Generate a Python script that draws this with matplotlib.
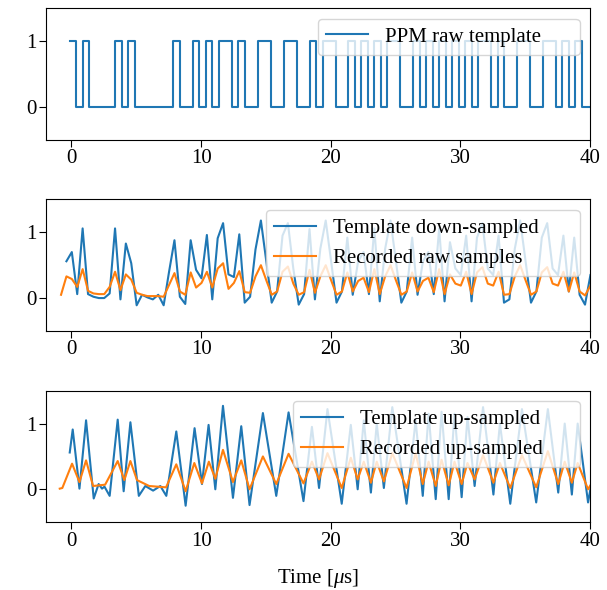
import matplotlib
matplotlib.use("Agg")
import matplotlib.pyplot as plt
import numpy as np

plt.rcParams["font.family"] = ["Liberation Serif", "DejaVu Serif"]
plt.rcParams["mathtext.fontset"] = "custom"
plt.rcParams["mathtext.rm"] = "Liberation Serif"
plt.rcParams["mathtext.it"] = "Liberation Serif:italic"
plt.rcParams["font.size"] = 15
plt.rcParams["xtick.major.size"] = 5
plt.rcParams["ytick.major.size"] = 5
plt.rcParams["xtick.major.pad"] = 1.8
plt.rcParams["ytick.major.pad"] = 1.8

# PPM template: preamble chips + message bits (0.5 us chips)
chip_width = 0.5
template_start = -0.13
preamble_chips = [1, 0, 1, 0, 0, 0, 0, 1, 0, 1, 0, 0, 0, 0, 0, 0]
message_bits = [1, 0, 0, 0, 1, 1, 0, 1,
                0, 1, 0, 0, 1, 0, 0, 0,
                0, 1, 0, 0, 0, 0, 0, 0,
                1, 1, 0, 1, 0, 1, 1, 1,
                0]

# down-sampled template and recorded raw samples (2.4 MHz)
sample_period = 1 / 2.4
down_start = -0.385
template_down = [0.56, 0.70, 0.06, 1.06, 0.06, 0.02, 0.00, 0.00, 0.07, 1.06,
                 -0.02, 0.83, 0.53, -0.11, 0.05, 0.01, -0.02, 0.05, -0.11, 0.40,
                 0.88, 0.02, -0.09, 0.88, 0.43, 0.30, 0.96, -0.02, 0.91, 1.14,
                 0.36, 0.32, 0.97, -0.07, 0.02, 0.74, 1.18, 0.56, -0.07, 0.10,
                 0.95, 1.14, 0.45, -0.10, 0.06, 1.05, -0.02, 0.75, 1.18, 0.56,
                 -0.07, 0.10, 0.92, 0.05, 0.56, 0.70, 0.06, 1.06, -0.05, 0.75,
                 1.18, 0.56, -0.07, 0.10, 0.92, 0.05, 0.56, 0.70, 0.06, 1.06,
                 -0.05, 0.85, 0.45, 0.35, 0.95, -0.05, 0.92, 1.14, 0.45, 0.35,
                 0.95, -0.07, -0.02, 0.75, 1.18, 0.56, -0.07, 0.10, 0.92, 1.14,
                 0.45, 0.35, 0.95, 0.10, 0.92, 0.05, -0.10, 0.35]
recorded_start = -0.80
recorded_raw = [0.05, 0.33, 0.29, 0.17, 0.44, 0.11, 0.07, 0.06, 0.06, 0.17,
                0.40, 0.12, 0.36, 0.28, 0.08, 0.05, 0.03, 0.03, 0.03, 0.02,
                0.20, 0.38, 0.10, 0.05, 0.39, 0.16, 0.23, 0.40, 0.16, 0.45,
                0.53, 0.14, 0.23, 0.41, 0.09, 0.08, 0.33, 0.50, 0.27, 0.05,
                0.10, 0.40, 0.48, 0.22, 0.05, 0.09, 0.43, 0.08, 0.33, 0.50,
                0.27, 0.05, 0.10, 0.39, 0.10, 0.26, 0.31, 0.09, 0.44, 0.06,
                0.33, 0.50, 0.27, 0.05, 0.10, 0.39, 0.10, 0.26, 0.31, 0.09,
                0.44, 0.06, 0.36, 0.22, 0.19, 0.40, 0.06, 0.39, 0.47, 0.22,
                0.19, 0.40, 0.05, 0.06, 0.33, 0.50, 0.27, 0.05, 0.10, 0.39,
                0.47, 0.22, 0.19, 0.40, 0.10, 0.39, 0.10, 0.04, 0.19]

# up-sampled curves, read as (time, value) turning points
up_template_t = [-0.13, 0.10, 0.62, 1.13, 1.72, 2.10, 2.36, 2.55, 2.95, 3.57,
                 4.03, 4.55, 5.20, 5.70, 6.30, 6.86, 7.32, 8.09, 8.81, 9.50,
                 10.07, 10.58, 11.10, 11.69, 12.46, 13.10, 13.74, 14.77, 15.80,
                 16.75, 17.90, 18.55, 19.10, 19.75, 20.85, 21.55, 22.08, 22.55,
                 23.10, 23.55, 24.10, 24.75, 25.85, 26.55, 27.10, 27.55, 28.10,
                 28.55, 29.10, 29.55, 30.10, 30.55, 31.10, 31.75, 32.55, 33.05,
                 33.85, 34.75, 35.85, 36.75, 37.55, 38.05, 38.60, 39.05, 39.85,
                 40.30]
up_template_v = [0.56, 0.91, 0.01, 1.05, -0.14, 0.08, 0.01, 0.04, -0.10, 1.06,
                 -0.03, 1.02, -0.10, 0.05, -0.02, 0.05, -0.10, 0.88, -0.25, 0.93,
                 0.08, 0.98, 0.00, 1.27, -0.13, 0.96, -0.24, 1.16, -0.10,
                 1.17, -0.18, 0.95, 0.02, 1.22, -0.22, 0.98, 0.00, 1.05,
                 -0.05, 1.00, 0.02, 1.25, -0.22, 1.05, -0.10, 1.15, -0.15,
                 1.18, -0.15, 1.15, -0.12, 1.10, 0.05, 1.25, -0.08, 1.00,
                 -0.22, 1.22, -0.20, 1.22, -0.05, 1.00, -0.08, 1.00, -0.20,
                 0.30]
up_recorded_t = [-0.90, -0.70, 0.05, 0.62, 1.13, 1.67, 2.60, 3.57, 4.08, 4.55,
                 5.06, 6.00, 7.30, 8.09, 8.81, 9.48, 10.07, 10.60, 11.10, 11.69,
                 12.46, 13.10, 13.74, 14.77, 15.80, 16.75, 17.90, 18.55, 19.10,
                 19.75, 20.85, 21.55, 22.08, 22.55, 23.10, 23.55, 24.10, 24.75,
                 25.85, 26.55, 27.10, 27.55, 28.10, 28.55, 29.10, 29.55, 30.10,
                 30.55, 31.10, 31.75, 32.55, 33.05, 33.85, 34.75, 35.85, 36.75,
                 37.55, 38.05, 38.60, 39.05, 39.85, 40.30]
up_recorded_v = [0.01, 0.02, 0.39, 0.11, 0.44, 0.05, 0.07, 0.43, 0.14, 0.43,
                 0.14, 0.05, 0.03, 0.38, -0.03, 0.40, 0.09, 0.42, 0.16, 0.60,
                 0.11, 0.44, 0.00, 0.50, 0.08, 0.54, 0.09, 0.42, 0.15,
                 0.55, 0.02, 0.48, 0.15, 0.42, 0.10, 0.42, 0.12, 0.55,
                 0.02, 0.55, 0.08, 0.42, 0.05, 0.45, 0.06, 0.42, 0.08,
                 0.40, 0.15, 0.52, 0.10, 0.40, 0.02, 0.52, 0.03, 0.58,
                 0.08, 0.42, 0.10, 0.40, 0.00, 0.15]

# build the step template from the chips
chips = list(preamble_chips)
for b in message_bits:
    chips += [1, 0] if b else [0, 1]
chips = np.array(chips)
edges = template_start + chip_width * np.arange(len(chips) + 1)
levels = np.append(chips, chips[-1])

t_down = down_start + sample_period * np.arange(len(template_down))
t_rec = recorded_start + sample_period * np.arange(len(recorded_raw))

fig, axes = plt.subplots(3, 1, figsize=(6.07, 5.90), dpi=100)
ax1, ax2, ax3 = axes

ax1.plot(edges, levels, drawstyle="steps-post", label="PPM raw template")

ax2.plot(t_down, template_down, label="Template down-sampled")
ax2.plot(t_rec, recorded_raw, label="Recorded raw samples")

ax3.plot(up_template_t, up_template_v, label="Template up-sampled",
         solid_joinstyle="round")
ax3.plot(up_recorded_t, up_recorded_v, label="Recorded up-sampled",
         solid_joinstyle="round")

# legend boxes are wider than their text in the original
legend_left = [0.481, 0.385, 0.435]
for ax, x0 in zip(axes, legend_left):
    ax.set_xlim(-1.95, 40)
    ax.set_ylim(-0.5, 1.5)
    ax.set_yticks([0, 1])
    ax.set_xticks([0, 10, 20, 30, 40])
    ax.legend(loc="upper right", mode="expand",
              bbox_to_anchor=(x0, 0.0, 1 - x0, 1.0))

ax3.set_xlabel(r"Time [$\mu$s]", labelpad=12)

fig.subplots_adjust(left=0.076, right=0.972, top=0.986, bottom=0.115,
                    hspace=0.455)
fig.savefig("out.png", dpi=100)
